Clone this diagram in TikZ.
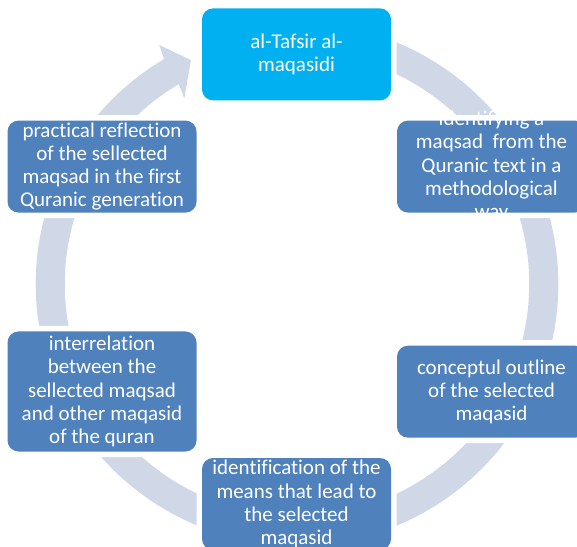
\documentclass[tikz,border=0pt]{standalone}
\usepackage{fontspec}
\setmainfont{Carlito}[Ligatures=NoCommon]
\usetikzlibrary{calc}
\definecolor{ringc}{RGB}{208,216,232}
\definecolor{boxblue}{RGB}{79,129,189}
\definecolor{topcyan}{RGB}{0,176,240}
\tikzset{
  cbox/.style={rectangle, rounded corners=11pt, minimum width=189pt, minimum height=92pt,
    inner sep=0pt, fill=boxblue, preaction={draw=white, line width=11pt}},
  ctext/.style={text=white, align=center, inner sep=0pt,
    font=\fontsize{21}{23.2}\selectfont},
}
\begin{document}
\begin{tikzpicture}[x=1pt,y=1pt]
\useasboundingbox (0,0) rectangle (577,546);
\coordinate (c) at (297,262);
% circular arrow
\fill[ringc] ($(c)+(95:261.3)$) arc[start angle=95, end angle=-239.4, radius=261.3]
  -- ($(c)+(119.95:275.8)$) -- ($(c)+(115.33:247.8)$) -- ($(c)+(121.25:217.2)$)
  -- ($(c)+(120.6:232.2)$) arc[start angle=-239.4, end angle=95, radius=232.2] -- cycle;
% boxes
\node[cbox, fill=topcyan] (t) at (296.5,491.6) {};
\node[cbox] (rt) at (491.5,379.4) {};
\node[cbox] (rb) at (491.5,154.3) {};
\node[cbox] (b) at (296.5,42) {};
\node[cbox, minimum height=120pt] (lb) at (102,154.5) {};
\node[cbox] (lt) at (102,379.4) {};
% texts
\node[ctext] (tt) at (t.center) {al-Tafsir al-\\maqasidi};
\node[ctext] (rtt) at (rt.center) {identifying a\\maqsad\ \ from the\\Quranic text in a\\methodological\\way};
\node[ctext] (rbt) at (rb.center) {conceptul outline\\of the selected\\maqasid};
\node[ctext] (bt) at (b.center) {identification of the\\means that lead to\\the selected\\maqasid};
\node[ctext] (lbt) at (lb.center) {interrelation\\between the\\sellected maqsad\\and other maqasid\\of the quran};
\node[ctext] (ltt) at (lt.center) {practical reflection\\of the sellected\\maqsad in the first\\Quranic generation};
\end{tikzpicture}
\end{document}
